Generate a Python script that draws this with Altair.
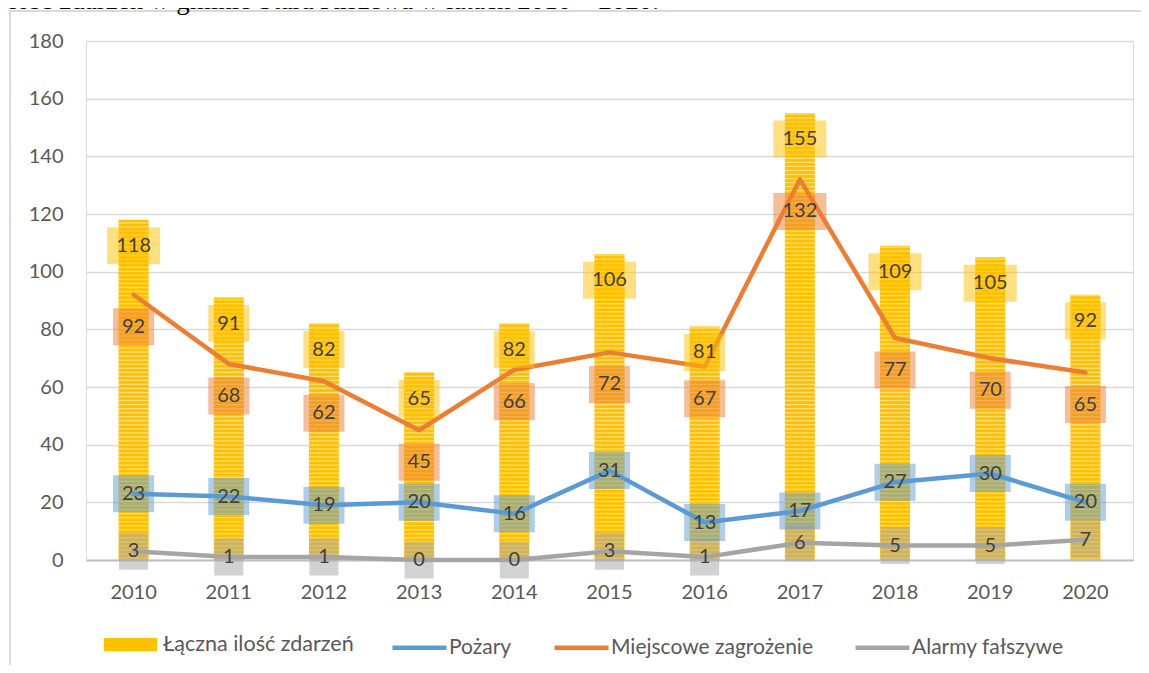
import altair as alt
import pandas as pd

# ---------------- data ----------------
years = ["2010", "2011", "2012", "2013", "2014", "2015", "2016", "2017", "2018", "2019", "2020"]
total = [118, 91, 82, 65, 82, 106, 81, 155, 109, 105, 92]
pozary = [23, 22, 19, 20, 16, 31, 13, 17, 27, 30, 20]
miejscowe = [92, 68, 62, 45, 66, 72, 67, 132, 77, 70, 65]
alarmy = [3, 1, 1, 0, 0, 3, 1, 6, 5, 5, 7]

S_TOT = "Łączna ilość zdarzeń"
S_POZ = "Pożary"
S_MZ = "Miejscowe zagrożenie"
S_AF = "Alarmy fałszywe"
TITLE = "Ilość zdarzeń w gminie Stara Kiszewa w latach 2010 – 2020."

C_TOT = "#FFC000"
C_POZ = "#5B9BD5"
C_MZ = "#ED7D31"
C_AF = "#A5A5A5"

rows = []
for s, vals in [(S_TOT, total), (S_POZ, pozary), (S_MZ, miejscowe), (S_AF, alarmy)]:
    for y, v in zip(years, vals):
        rows.append({"rok": y, "seria": s, "v": v, "boxw": 17 + 12 * len(str(v))})
df = pd.DataFrame(rows)
tot_df = df[df.seria == S_TOT]
line_df = df[df.seria != S_TOT]

FONT = "Lato"
W, H = 1047, 519

X = alt.X("rok:N", scale=alt.Scale(paddingInner=0, paddingOuter=0),
          axis=alt.Axis(title=None, labelAngle=0, labelFont=FONT, labelFontSize=20,
                        labelColor="#595959", labelPadding=22, ticks=False,
                        domainColor="#BFBFBF", domainWidth=2, grid=False))
Y = alt.Y("v:Q", scale=alt.Scale(domain=[0, 180], nice=False),
          axis=alt.Axis(title=None, values=list(range(0, 181, 20)), grid=True,
                        gridColor="#D9D9D9", gridWidth=1.5, domain=False, ticks=False,
                        labelFont=FONT, labelFontSize=20, labelColor="#595959",
                        labelPadding=23))

one = pd.DataFrame({"k": [0]})

frame_top = alt.Chart(one).mark_rule(stroke="#D9D9D9", strokeWidth=2).encode(
    x=alt.value(-77), x2=alt.value(1300), y=alt.value(-30))
frame_left = alt.Chart(one).mark_rule(stroke="#D9D9D9", strokeWidth=2).encode(
    x=alt.value(-76), y=alt.value(-31), y2=alt.value(800))

title = alt.Chart(one).mark_text(text=TITLE, font="Liberation Serif", fontSize=27,
                                 align="left", baseline="alphabetic", color="#000000").encode(
    x=alt.value(-86), y=alt.value(-32))

bars = alt.Chart(tot_df).mark_bar(size=30).encode(
    x=X, y=Y,
    fill=alt.Fill("seria:N", scale=alt.Scale(domain=[S_TOT], range=[C_TOT]),
                  legend=alt.Legend(title=None, orient="none", legendX=18, legendY=577,
                                    direction="horizontal",
                                    symbolType="M-1,-0.25L1,-0.25L1,0.25L-1,0.25Z",
                                    symbolSize=2809, symbolStrokeWidth=0,
                                    labelFont=FONT, labelFontSize=21.5, labelColor="#595959",
                                    labelOffset=6, labelLimit=0, padding=0)))

stripes = alt.Chart(tot_df).transform_calculate(
    s="sequence(0.7, datum.v, 1.4)"
).transform_flatten(["s"]).transform_calculate(v="datum.s").mark_tick(
    orient="horizontal", thickness=1.3, size=30, color="#FFE28A", opacity=0.9
).encode(x=X, y=Y)

lines = alt.Chart(line_df).mark_line(strokeWidth=4.5, strokeCap="round", strokeJoin="round").encode(
    x=X, y=Y,
    stroke=alt.Stroke("seria:N", scale=alt.Scale(domain=[S_POZ, S_MZ, S_AF], range=[C_POZ, C_MZ, C_AF]),
                      legend=alt.Legend(title=None, orient="none", legendX=304, legendY=577,
                                        direction="horizontal", symbolType="stroke",
                                        symbolSize=2916, symbolStrokeWidth=4.5,
                                        labelFont=FONT, labelFontSize=21, labelColor="#595959",
                                        labelOffset=0, labelLimit=0, columnPadding=33,
                                        padding=0)))


def labels(series, color, yoff):
    d = df[df.seria == series]
    box = alt.Chart(d).mark_tick(orient="horizontal", thickness=37, color=color,
                                 opacity=0.5, yOffset=yoff).encode(
        x=X, y=Y, size=alt.Size("boxw:Q", scale=None))
    txt = alt.Chart(d).mark_text(font=FONT, fontSize=20, color="#404040",
                                 baseline="middle", align="center", yOffset=yoff).encode(
        x=X, y=Y, text="v:Q")
    return [box, txt]


layers = [frame_top, frame_left, title, bars, stripes, lines]
layers += labels(S_AF, C_AF, 0)
layers += labels(S_POZ, C_POZ, 0)
layers += labels(S_MZ, C_MZ, 32)
layers += labels(S_TOT, C_TOT, 26)

chart = alt.layer(*layers).properties(
    width=W, height=H,
    autosize=alt.AutoSizeParams(type="none"),
    padding={"left": 78, "top": 33, "right": 8, "bottom": 105},
).configure_view(stroke=None).configure(background="white")

chart.save("out.html", embed_options={"renderer": "svg", "actions": False})
